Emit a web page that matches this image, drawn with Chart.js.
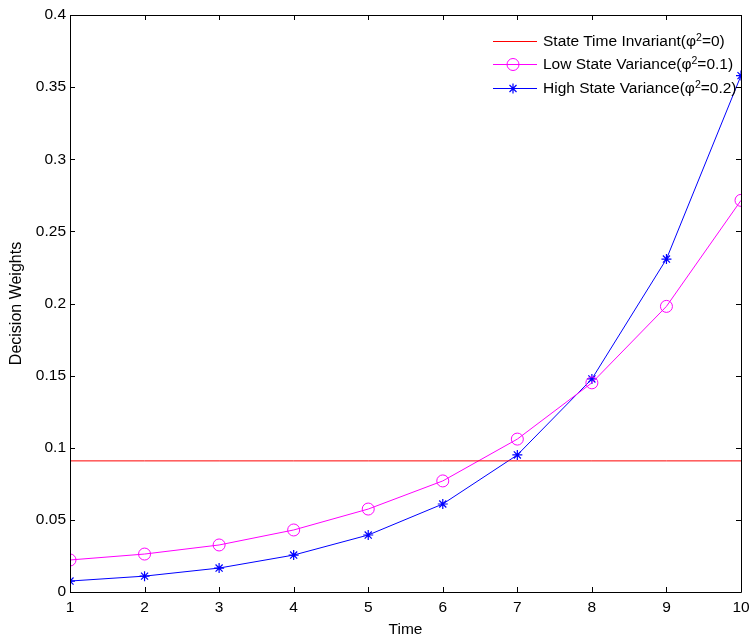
<!DOCTYPE html>
<html>
<head>
<meta charset="utf-8">
<script src="https://cdn.jsdelivr.net/npm/chart.js@4.4.0/dist/chart.umd.min.js"></script>
<style>
    html, body { margin: 0; padding: 0; background: #fff; }
    #wrap { position: relative; width: 751px; height: 639px; }
    #legend { position: absolute; left: 0; top: 0; font-family: Arial, "Liberation Sans", sans-serif; font-size: 15.5px; color: #000; }
    .row { position: absolute; left: 491px; white-space: nowrap; height: 18px; line-height: 18px; }
    .row .sample { position: absolute; left: 2px; top: 9px; width: 44px; height: 1px; }
    .row svg { position: absolute; left: 0; top: 0; }
    .row span { position: absolute; left: 52px; top: 0; }
    sup { font-size: 10.5px; vertical-align: 5px; line-height: 0; }
</style>
</head>
<body>
<div id="wrap">
    <canvas id="chart" width="751" height="639"></canvas>
    <div id="legend"></div>
</div>
<script>
// Data
const timeSteps = [1, 2, 3, 4, 5, 6, 7, 8, 9, 10];
const invariantWeights = [0.0909, 0.0909, 0.0909, 0.0909, 0.0909, 0.0909, 0.0909, 0.0909, 0.0909, 0.0909];
const lowVarianceWeights = [0.0222, 0.0263, 0.0326, 0.0430, 0.0575, 0.0770, 0.1060, 0.1450, 0.1980, 0.2715];
const highVarianceWeights = [0.0076, 0.0110, 0.0166, 0.0256, 0.0395, 0.0610, 0.0950, 0.1477, 0.2308, 0.3580];
const yTicks = [0, 0.05, 0.1, 0.15, 0.2, 0.25, 0.3, 0.35, 0.4];
const seriesNames = ['State Time Invariant', 'Low State Variance', 'High State Variance'];
const phiValues = ['0', '0.1', '0.2'];

const FONT = 'Arial, "Liberation Sans", sans-serif';

function toPoints(values) {
    return timeSteps.map((t, i) => ({ x: t, y: values[i] }));
}

// MATLAB style box with inward ticks on all four sides
const boxTicks = {
    id: 'boxTicks',
    afterDraw(chart) {
        const { ctx, chartArea: a, scales } = chart;
        const len = 5;
        ctx.save();
        ctx.strokeStyle = '#000';
        ctx.lineWidth = 1;
        ctx.beginPath();
        ctx.rect(Math.round(a.left) + 0.5, Math.round(a.top) + 0.5, Math.round(a.right - a.left), Math.round(a.bottom - a.top));
        scales.x.ticks.forEach(t => {
            const px = Math.round(scales.x.getPixelForValue(t.value)) + 0.5;
            ctx.moveTo(px, a.bottom); ctx.lineTo(px, a.bottom - len);
            ctx.moveTo(px, a.top); ctx.lineTo(px, a.top + len);
        });
        scales.y.ticks.forEach(t => {
            const py = Math.round(scales.y.getPixelForValue(t.value)) + 0.5;
            ctx.moveTo(a.left, py); ctx.lineTo(a.left + len, py);
            ctx.moveTo(a.right, py); ctx.lineTo(a.right - len, py);
        });
        ctx.stroke();
        ctx.restore();
    }
};

new Chart(document.getElementById('chart').getContext('2d'), {
    type: 'line',
    data: {
        datasets: [
            {
                label: seriesNames[0],
                data: toPoints(invariantWeights),
                borderColor: '#ff0000',
                borderWidth: 1,
                pointRadius: 0,
                tension: 0
            },
            {
                label: seriesNames[1],
                data: toPoints(lowVarianceWeights),
                borderColor: '#ff00ff',
                borderWidth: 1,
                pointStyle: 'circle',
                pointRadius: 6,
                pointBorderWidth: 1,
                pointBackgroundColor: 'rgba(0,0,0,0)',
                pointBorderColor: '#ff00ff',
                tension: 0
            },
            {
                label: seriesNames[2],
                data: toPoints(highVarianceWeights),
                borderColor: '#0000ff',
                borderWidth: 1,
                pointStyle: 'star',
                pointRadius: 5,
                pointBorderWidth: 1.2,
                pointBorderColor: '#0000ff',
                tension: 0
            }
        ]
    },
    options: {
        responsive: false,
        animation: false,
        devicePixelRatio: 1,
        layout: { padding: { left: 0, right: 10, top: 15, bottom: 0 } },
        plugins: {
            legend: { display: false },
            tooltip: { enabled: false }
        },
        scales: {
            x: {
                type: 'linear',
                min: 1,
                max: 10,
                afterFit: s => { s.height = 47; s.paddingLeft = 0; s.paddingRight = 0; },
                afterBuildTicks: s => { s.ticks = timeSteps.map(v => ({ value: v })); },
                grid: { display: false, drawTicks: false },
                border: { display: false },
                ticks: {
                    color: '#000',
                    padding: 6,
                    font: { family: FONT, size: 15.5 }
                },
                title: {
                    display: true,
                    text: 'Time',
                    color: '#000',
                    padding: { top: 0, bottom: 0 },
                    font: { family: FONT, size: 15.5 }
                }
            },
            y: {
                type: 'linear',
                min: 0,
                max: 0.4,
                afterFit: s => { s.width = 70; s.paddingTop = 0; s.paddingBottom = 0; },
                afterBuildTicks: s => { s.ticks = yTicks.map(v => ({ value: v })); },
                grid: { display: false, drawTicks: false },
                border: { display: false },
                ticks: {
                    color: '#000',
                    padding: 4,
                    font: { family: FONT, size: 15.5 },
                    callback: v => String(Math.round(v * 100) / 100)
                },
                title: {
                    display: true,
                    text: 'Decision Weights',
                    color: '#000',
                    padding: { top: 7, bottom: 0 },
                    font: { family: FONT, size: 16 }
                }
            }
        }
    },
    plugins: [boxTicks]
});

// HTML legend so the superscript stays real text
const legendColors = ['#ff0000', '#ff00ff', '#0000ff'];
const legendMarkers = [
    '',
    '<svg width="48" height="18"><circle cx="22" cy="9.5" r="6" fill="none" stroke="#ff00ff" stroke-width="1"/></svg>',
    '<svg width="48" height="18"><path d="M22 4.5V14.5M17 9.5H27M18.5 6L25.5 13M25.5 6L18.5 13" stroke="#0000ff" stroke-width="1.2"/></svg>'
];
const legendTops = [32, 55, 79];
document.getElementById('legend').innerHTML = seriesNames.map((name, i) =>
    '<div class="row" style="top:' + legendTops[i] + 'px">' +
    '<div class="sample" style="background:' + legendColors[i] + '"></div>' + legendMarkers[i] +
    '<span>' + name + '(&phi;<sup>2</sup>=' + phiValues[i] + ')</span></div>'
).join('');
</script>
</body>
</html>
